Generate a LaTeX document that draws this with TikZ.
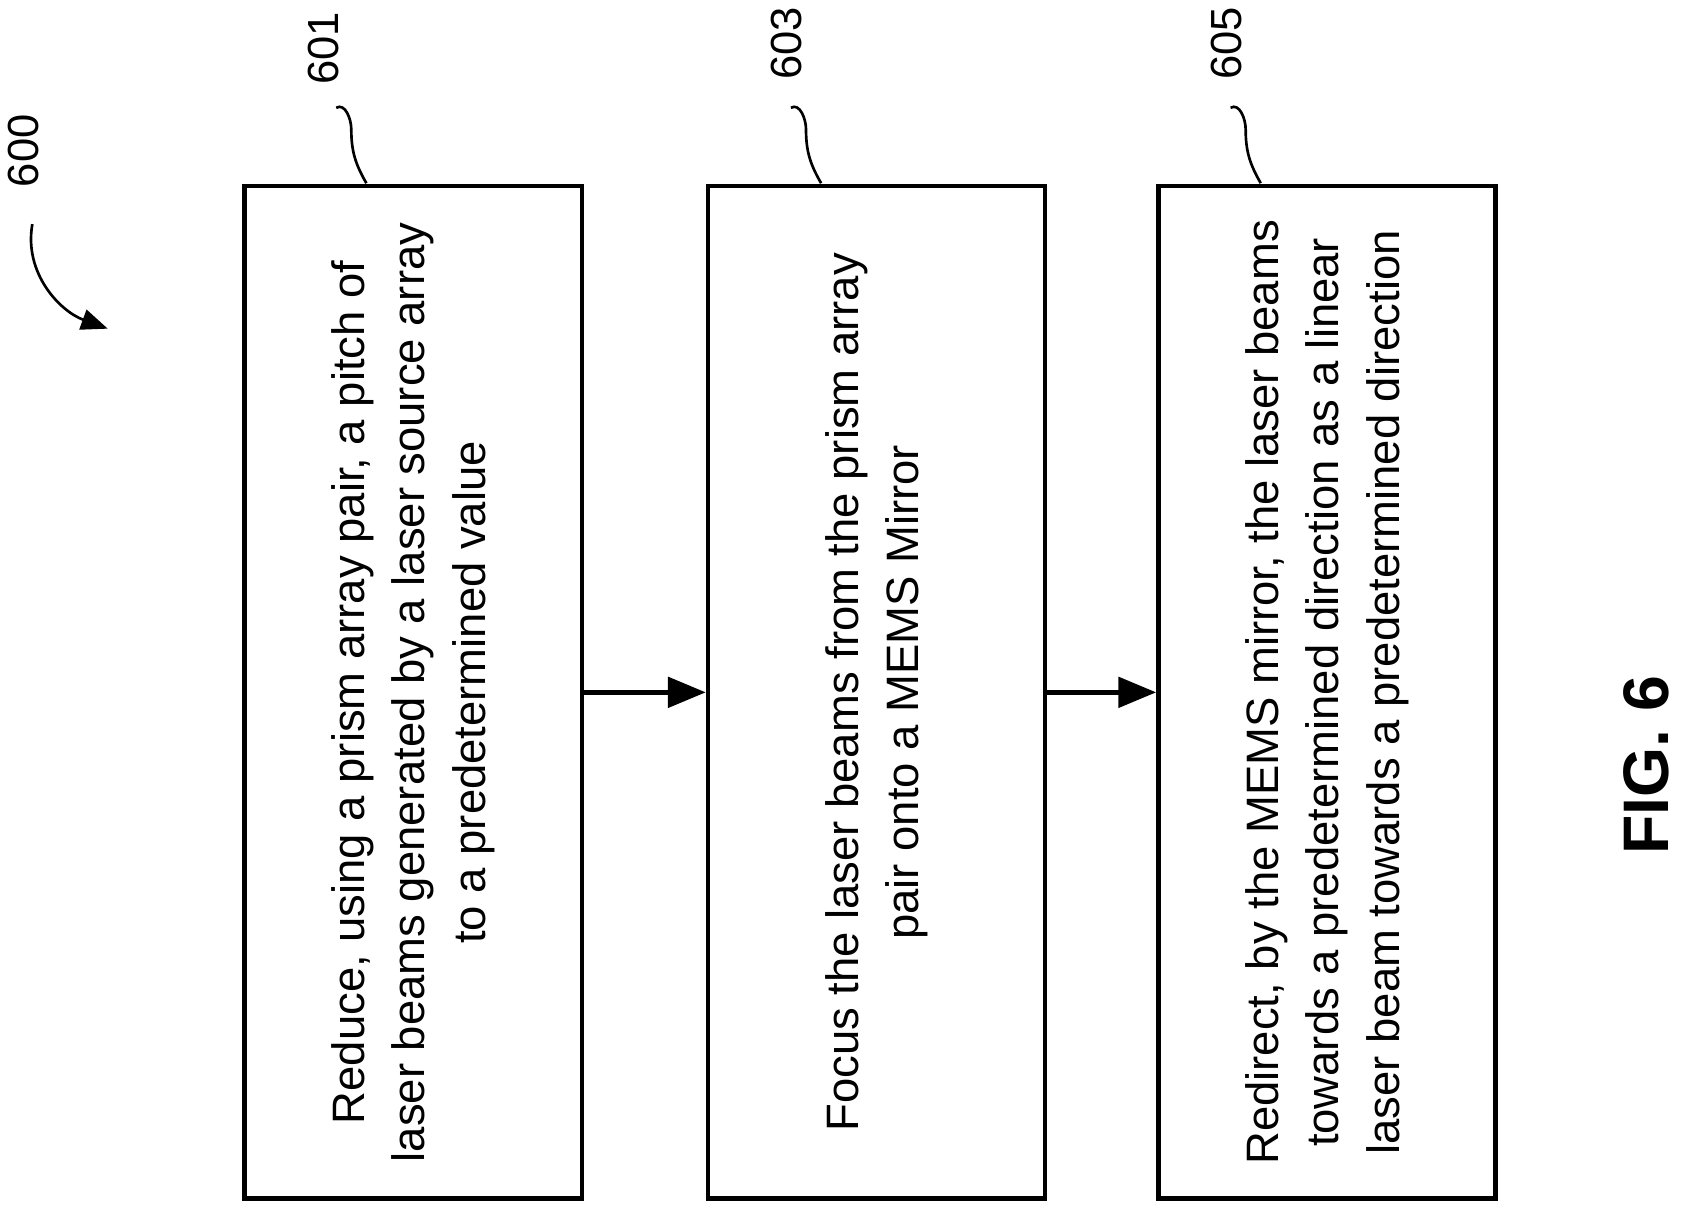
\documentclass[tikz,border=0pt]{standalone}
\usepackage{fontspec}
\setmainfont{Liberation Sans}
\usetikzlibrary{arrows.meta,positioning}

\begin{document}
\begin{tikzpicture}[
  x=0.02cm, y=-0.02cm,
  block/.style={draw,line width=2.4pt,rotate=90,minimum width=18.8cm,minimum height=6.26cm,
    align=center,font=\fontsize{24}{32}\selectfont,inner sep=0pt},
  ref/.style={rotate=90,font=\fontsize{23}{26}\selectfont},
  arr/.style={-{Triangle[length=20pt,width=16pt]},line width=2.4pt},
  lead/.style={line width=1.4pt}
]
\useasboundingbox (0,0) rectangle (1560,1130);
\node[block] (s601) at (383.5,642.5) {Reduce, using a prism array pair, a pitch of\\laser beams generated by a laser source array\\to a predetermined value};
\node[block] (s603) at (813.5,642.5) {Focus the laser beams from the prism array\\pair onto a MEMS Mirror};
\node[block] (s605) at (1231.5,642.5) {Redirect, by the MEMS mirror, the laser beams\\towards a predetermined direction as a linear\\laser beam towards a predetermined direction};
\draw[arr] (s601) -- (s603);
\draw[arr] (s603) -- (s605);
% reference numerals
\node[ref] (n601) at (300,45) {601};
\node[ref] (n603) at (730,40) {603};
\node[ref] (n605) at (1138,40) {605};
\node[ref] (n600) at (22,140) {600};
\coordinate (t601) at (340,170);
\coordinate (t603) at (762,170);
\coordinate (t605) at (1170,170);
\draw[lead] (312,100) to[out=30,in=90] (326,120) to[out=-90,in=120] (t601);
\draw[lead] (734,100) to[out=30,in=90] (748,120) to[out=-90,in=120] (t603);
\draw[lead] (1142,100) to[out=30,in=90] (1156,120) to[out=-90,in=120] (t605);
\coordinate (a600) at (100,305);
\draw[lead,-{Triangle[length=14pt,width=11pt]}] (30,208) to[out=-100,in=160] (a600);
\node[rotate=90,font=\bfseries\fontsize{34}{40}\selectfont] (fig) at (1528,710) {FIG. 6};
\end{tikzpicture}
\end{document}
